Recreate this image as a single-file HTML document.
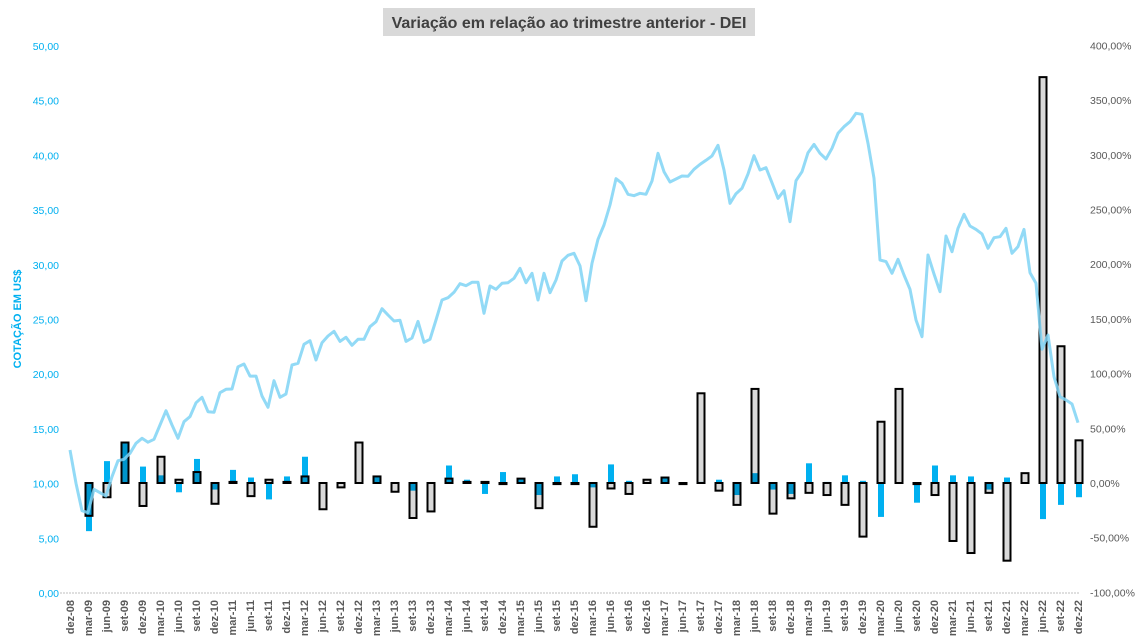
<!DOCTYPE html>
<html><head><meta charset="utf-8"><style>
body{margin:0;background:#fff;}
svg{display:block;font-family:"Liberation Sans",sans-serif;}
</style></head><body>
<svg id="chart" width="1139" height="643" viewBox="0 0 1139 643" xmlns="http://www.w3.org/2000/svg">
<rect x="383" y="8" width="372" height="28" fill="#d9d9d9"/>
<text x="569" y="28" text-anchor="middle" font-size="16" font-weight="bold" fill="#404040">Variação em relação ao trimestre anterior - DEI</text>
<text transform="translate(21,319) rotate(-90)" text-anchor="middle" font-size="11" font-weight="bold" fill="#00b0f0">COTAÇÃO EM US$</text>
<line x1="60" y1="593" x2="1080" y2="593" stroke="#bfbfbf" stroke-width="1" stroke-dasharray="2,1"/>
<g id="yl"></g>
<g id="yr"></g>
<g id="xl"></g>
<g id="bars"></g>
<g id="ln"></g>
</svg>
<script>
const quarters=["dez-08","mar-09","jun-09","set-09","dez-09","mar-10","jun-10","set-10","dez-10","mar-11","jun-11","set-11","dez-11","mar-12","jun-12","set-12","dez-12","mar-13","jun-13","set-13","dez-13","mar-14","jun-14","set-14","dez-14","mar-15","jun-15","set-15","dez-15","mar-16","jun-16","set-16","dez-16","mar-17","jun-17","set-17","dez-17","mar-18","jun-18","set-18","dez-18","mar-19","jun-19","set-19","dez-19","mar-20","jun-20","set-20","dez-20","mar-21","jun-21","set-21","dez-21","mar-22","jun-22","set-22","dez-22"];
const greyVals=[0,-30,-13,37,-21,24,3,10,-19,1,-12,3,1,6,-24,-4,37,6,-8,-32,-26,4,1,1,-1,4,-23,-1,-1,-40,-5,-10,3,5,-1,82,-7,-20,86,-28,-14,-9,-11,-20,-49,56,86,-1,-11,-53,-64,-9,-71,9,371,125,39];
const blueVals=[0,-44,20,37,15,7,-8.5,22,-6,12,5,-15,6,24,0,0,0,6,0,-7,0,16,3,-10,10,4,-11,6,8,-4,17,2,0,5,0,1,3,-11,9,-6,-10,18,1,7,2,-31,0,-18,16,7,6,-6,5,0,-33,-20,-13];
const price=[13.07,10.03,7.52,7.34,9.48,9.17,8.87,10.63,12.09,12.22,12.77,13.68,14.14,13.78,14.05,15.36,16.66,15.36,14.14,15.66,16.12,17.39,17.89,16.57,16.52,18.31,18.62,18.65,20.68,20.93,19.83,19.83,18.01,16.97,19.41,17.89,18.19,20.84,21.0,22.73,23.06,21.3,22.88,23.49,23.92,23.0,23.37,22.64,23.19,23.19,24.34,24.8,25.99,25.41,24.86,24.93,23.0,23.31,24.83,22.92,23.19,24.95,26.78,26.99,27.49,28.27,28.09,28.4,28.4,25.57,28.06,27.76,28.31,28.36,28.77,29.68,28.36,29.22,26.78,29.22,27.45,28.61,30.35,30.87,31.05,29.9,26.72,30.14,32.33,33.64,35.47,37.87,37.45,36.44,36.32,36.54,36.44,37.66,40.19,38.51,37.57,37.84,38.12,38.09,38.73,39.18,39.55,39.95,40.92,38.67,35.62,36.5,36.99,38.3,39.97,38.67,38.88,37.5,36.08,36.77,33.94,37.69,38.51,40.25,41.01,40.19,39.67,40.65,42.02,42.62,43.08,43.85,43.76,41.11,37.91,30.44,30.29,29.22,30.5,29.07,27.76,24.95,23.43,30.9,29.16,27.54,32.63,31.2,33.34,34.62,33.55,33.24,32.82,31.51,32.48,32.57,33.34,31.05,31.66,33.24,29.28,28.31,22.28,23.58,19.77,17.94,17.64,17.28,15.57];
const leftTicks=["0,00","5,00","10,00","15,00","20,00","25,00","30,00","35,00","40,00","45,00","50,00"];
const rightTicks=["-100,00%","-50,00%","0,00%","50,00%","100,00%","150,00%","200,00%","250,00%","300,00%","350,00%","400,00%"];
const NS="http://www.w3.org/2000/svg";
const yL=v=>593-v*10.94;
const yR=p=>483-p*1.094;
const xM=m=>70+6*m;
const xQ=q=>70+18*q+1;
function mk(tag,parent,attrs){const e=document.createElementNS(NS,tag);for(const k in attrs)e.setAttribute(k,attrs[k]);parent.appendChild(e);return e;}
const gl=document.getElementById('yl'),gr=document.getElementById('yr'),gx=document.getElementById('xl'),gb=document.getElementById('bars'),gln=document.getElementById('ln');
leftTicks.forEach((t,i)=>{const e=mk('text',gl,{x:59,y:yL(i*5)+4,'text-anchor':'end','font-size':'10.5',fill:'#00b0f0'});


e.textContent=t;});
rightTicks.forEach((t,i)=>{const e=mk('text',gr,{x:1090,y:yR(-100+i*50)+4,'font-size':'10.5',fill:'#595959'});


e.textContent=t;});
quarters.forEach((q,i)=>{const x=70+18*i;const e=mk('text',gx,{transform:`translate(${x+4},600) rotate(-90)`,'text-anchor':'end','font-size':'11','font-weight':'bold',fill:'#595959'});


e.textContent=q;});
quarters.forEach((q,i)=>{const x=xQ(i);
const b=blueVals[i];if(b!==0){const y0=yR(Math.max(b,0)),y1=yR(Math.min(b,0));const r=mk('rect',gb,{x:x-3,y:y0,width:6,height:Math.max(y1-y0,0.5),fill:'#00b0f0'});

}
const g=greyVals[i];if(g!==0){const y0=yR(Math.max(g,0)),y1=yR(Math.min(g,0));const r=mk('rect',gb,{x:x-3.5,y:y0,width:7,height:Math.max(y1-y0,1),fill:'rgba(0,0,0,0.15)',stroke:'#000','stroke-width':2});

}
});
const pts=price.map((v,i)=>xM(i)+','+yL(v).toFixed(1)).join(' ');
const pl=mk('polyline',gln,{points:pts,fill:'none',stroke:'#7fd4f5','stroke-width':3,'stroke-opacity':0.85,'stroke-linejoin':'round'});


</script>
</body></html>
